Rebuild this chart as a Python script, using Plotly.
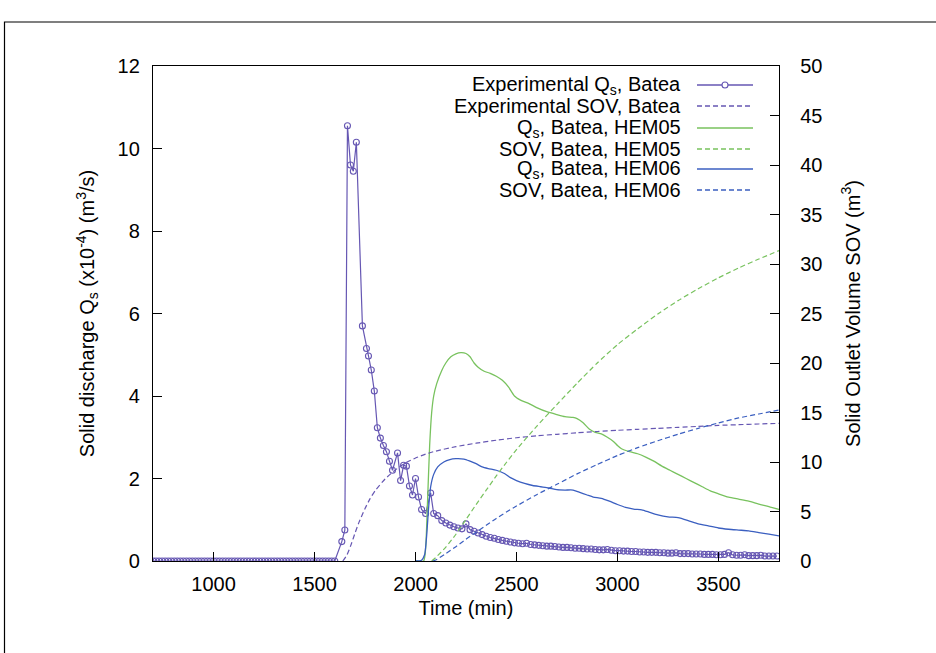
import plotly.graph_objects as go

# ---------------- data ----------------
exp_t = [700, 715, 730, 745, 760, 775, 790, 805, 820, 835, 850, 865, 880, 895, 910, 925, 940, 955, 970, 985,
         1000, 1015, 1030, 1045, 1060, 1075, 1090, 1105, 1120, 1135, 1150, 1165, 1180, 1195, 1210, 1225, 1240,
         1255, 1270, 1285, 1300, 1315, 1330, 1345, 1360, 1375, 1390, 1405, 1420, 1435, 1450, 1465, 1480, 1495,
         1510, 1525, 1540, 1555, 1570, 1585, 1600,
         1635, 1650, 1663, 1678, 1692, 1707, 1737, 1757, 1767, 1781, 1796, 1811, 1826, 1841, 1856, 1871, 1886,
         1911, 1926, 1941, 1955, 1970, 1985, 2000, 2015, 2030, 2050, 2075, 2090,
         2110, 2130, 2150, 2170, 2190, 2210, 2230, 2250, 2270, 2290, 2310, 2330, 2350, 2370, 2390, 2410, 2430,
         2450, 2470, 2490, 2510, 2530, 2550, 2570, 2590, 2610, 2630, 2650, 2670, 2690, 2710, 2730, 2750, 2770,
         2790, 2810, 2830, 2850, 2870, 2890, 2910, 2930, 2950, 2970, 2990, 3010, 3030, 3050, 3070, 3090, 3110,
         3130, 3150, 3170, 3190, 3210, 3230, 3250, 3270, 3290, 3310, 3330, 3350, 3370, 3390, 3410, 3430, 3450,
         3470, 3490, 3510, 3530, 3550, 3570, 3590, 3610, 3630, 3650, 3670, 3690, 3710, 3730, 3750, 3770, 3790]
exp_qs = [0, 0, 0, 0, 0, 0, 0, 0, 0, 0, 0, 0, 0, 0, 0, 0, 0, 0, 0, 0,
          0, 0, 0, 0, 0, 0, 0, 0, 0, 0, 0, 0, 0, 0, 0, 0, 0,
          0, 0, 0, 0, 0, 0, 0, 0, 0, 0, 0, 0, 0, 0, 0, 0, 0,
          0, 0, 0, 0, 0, 0, 0,
          0.47, 0.75, 10.55, 9.6, 9.45, 10.15, 5.7, 5.15, 4.97, 4.63, 4.12, 3.23, 2.98, 2.8, 2.65, 2.42, 2.2,
          2.62, 1.95, 2.32, 2.3, 1.82, 1.6, 2.0, 1.55, 1.25, 1.15, 1.65, 1.15,
          1.1, 0.98, 0.92, 0.87, 0.83, 0.8, 0.78, 0.9, 0.76, 0.72, 0.68, 0.64, 0.6, 0.57, 0.55, 0.52, 0.5,
          0.48, 0.46, 0.44, 0.43, 0.42, 0.43, 0.4, 0.39, 0.38, 0.37, 0.36, 0.36, 0.35, 0.34, 0.33, 0.33, 0.32,
          0.31, 0.31, 0.3, 0.29, 0.29, 0.28, 0.27, 0.27, 0.28, 0.26, 0.25, 0.25, 0.24, 0.24, 0.23, 0.23, 0.22,
          0.22, 0.21, 0.21, 0.21, 0.2, 0.2, 0.19, 0.19, 0.2, 0.18, 0.18, 0.18, 0.17, 0.17, 0.17, 0.16, 0.16,
          0.16, 0.15, 0.15, 0.16, 0.2, 0.15, 0.14, 0.14, 0.15, 0.13, 0.13, 0.13, 0.14, 0.12, 0.12, 0.12, 0.12]

exp_sov_t = [1640, 1660, 1680, 1700, 1720, 1750, 1775, 1800, 1850, 1900, 1950, 2000, 2050, 2100, 2200, 2300,
             2400, 2500, 2600, 2700, 2800, 2900, 3000, 3100, 3200, 3300, 3400, 3500, 3600, 3700, 3800]
exp_sov = [0, 0.6, 1.6, 2.8, 3.9, 5.3, 6.3, 7.1, 8.3, 9.2, 9.9, 10.4, 10.8, 11.1, 11.55, 11.9,
           12.2, 12.45, 12.65, 12.8, 12.95, 13.08, 13.2, 13.3, 13.4, 13.5, 13.6, 13.7, 13.77, 13.84, 13.9]

h05_t = [2000, 2040, 2050, 2060, 2070, 2080, 2090, 2105, 2130, 2150, 2175, 2200, 2225, 2250, 2270, 2290,
         2310, 2340, 2370, 2400, 2430, 2460, 2490, 2520, 2560, 2600, 2650, 2700, 2740, 2780, 2800, 2830,
         2860, 2890, 2920, 2950, 2980, 3000, 3020, 3060, 3100, 3140, 3180, 3220, 3260, 3300, 3340, 3380,
         3420, 3460, 3500, 3550, 3600, 3650, 3700, 3750, 3800]
h05_qs = [0, 0, 0.3, 1.5, 2.8, 3.6, 4.0, 4.3, 4.62, 4.8, 4.95, 5.02, 5.05, 5.03, 4.95, 4.8,
          4.7, 4.6, 4.55, 4.48, 4.38, 4.22, 4.0, 3.9, 3.82, 3.72, 3.62, 3.55, 3.5, 3.48, 3.45, 3.35,
          3.2, 3.12, 3.08, 3.0, 2.9, 2.8, 2.72, 2.65, 2.6, 2.52, 2.42, 2.3, 2.2, 2.1, 2.0, 1.9,
          1.8, 1.7, 1.63, 1.55, 1.5, 1.45, 1.38, 1.32, 1.25]

h05_sov_t = [2080, 2100, 2150, 2200, 2250, 2300, 2350, 2400, 2450, 2500, 2600, 2700, 2800, 2900, 3000,
             3100, 3200, 3300, 3400, 3500, 3600, 3700, 3800]
h05_sov = [0, 0.35, 1.4, 2.7, 4.2, 5.7, 7.15, 8.6, 9.95, 11.25, 13.6, 15.8, 17.95, 20.0, 21.85,
           23.45, 24.95, 26.3, 27.5, 28.6, 29.6, 30.5, 31.35]

h06_t = [2000, 2030, 2045, 2055, 2065, 2075, 2090, 2110, 2140, 2170, 2200, 2240, 2270, 2300, 2330, 2360,
         2400, 2440, 2470, 2500, 2540, 2580, 2620, 2660, 2700, 2740, 2780, 2810, 2850, 2880, 2920, 2960,
         3000, 3040, 3080, 3120, 3160, 3200, 3250, 3300, 3350, 3400, 3450, 3500, 3550, 3600, 3650, 3700,
         3750, 3800]
h06_qs = [0, 0.02, 0.15, 0.6, 1.3, 1.8, 2.1, 2.28, 2.4, 2.46, 2.48, 2.47, 2.42, 2.36, 2.28, 2.24,
          2.2, 2.12, 2.02, 1.95, 1.88, 1.83, 1.8, 1.77, 1.73, 1.72, 1.72, 1.67, 1.6, 1.55, 1.52, 1.45,
          1.37, 1.3, 1.26, 1.24, 1.18, 1.12, 1.07, 1.05, 0.98, 0.9, 0.85, 0.8, 0.77, 0.75, 0.73, 0.69,
          0.65, 0.61]

h06_sov_t = [2085, 2100, 2150, 2200, 2250, 2300, 2350, 2400, 2450, 2500, 2600, 2700, 2800, 2900, 3000,
             3100, 3200, 3300, 3400, 3500, 3600, 3700, 3800]
h06_sov = [0, 0.1, 0.75, 1.45, 2.2, 2.9, 3.6, 4.3, 4.95, 5.55, 6.7, 7.75, 8.8, 9.75, 10.65,
           11.45, 12.15, 12.8, 13.4, 13.95, 14.45, 14.85, 15.25]

x_ticks = [1000, 1500, 2000, 2500, 3000, 3500]

legend_labels = ["Experimental Q<sub>s</sub>, Batea", "Experimental SOV, Batea",
                 "Q<sub>s</sub>, Batea, HEM05", "SOV, Batea, HEM05",
                 "Q<sub>s</sub>, Batea, HEM06", "SOV, Batea, HEM06"]

# ---------------- styles ----------------
C_EXP = "#6657b3"
C_GREEN = "#78c25e"
C_BLUE = "#3b5fc0"
DASH = "5px,3px"
FONT = "Liberation Sans, Arial, sans-serif"
W, H = 936, 653
L, R, T, B = 153, 157, 66, 92
PW, PH = W - L - R, H - T - B


def px(x):
    return (x - L) / PW


def py(y):
    return (H - B - y) / PH


fig = go.Figure()
fig.add_trace(go.Scatter(x=exp_t, y=exp_qs, mode="lines+markers", yaxis="y",
                         line=dict(color=C_EXP, width=1.2),
                         marker=dict(symbol="circle-open", size=6, color=C_EXP, line=dict(width=1.1))))
fig.add_trace(go.Scatter(x=h05_t, y=h05_qs, mode="lines", yaxis="y",
                         line=dict(color=C_GREEN, width=1.3, shape="spline", smoothing=0.6)))
fig.add_trace(go.Scatter(x=h06_t, y=h06_qs, mode="lines", yaxis="y",
                         line=dict(color=C_BLUE, width=1.3, shape="spline", smoothing=0.6)))
fig.add_trace(go.Scatter(x=exp_sov_t, y=exp_sov, mode="lines", yaxis="y2",
                         line=dict(color=C_EXP, width=1.2, dash=DASH, shape="spline", smoothing=0.6)))
fig.add_trace(go.Scatter(x=h05_sov_t, y=h05_sov, mode="lines", yaxis="y2",
                         line=dict(color=C_GREEN, width=1.2, dash=DASH, shape="spline", smoothing=0.6)))
fig.add_trace(go.Scatter(x=h06_sov_t, y=h06_sov, mode="lines", yaxis="y2",
                         line=dict(color=C_BLUE, width=1.2, dash=DASH, shape="spline", smoothing=0.6)))

# manual gnuplot-style legend (text left, sample right)
rows_y = [85, 106, 128, 149, 169, 190]
styles = [(C_EXP, "solid"), (C_EXP, DASH), (C_GREEN, "solid"), (C_GREEN, DASH),
          (C_BLUE, "solid"), (C_BLUE, DASH)]
annotations = []
shapes = []
for lab, yy, (col, dsh) in zip(legend_labels, rows_y, styles):
    annotations.append(dict(x=px(683), y=py(yy), xref="paper", yref="paper", text=lab,
                            showarrow=False, xanchor="right", yanchor="middle",
                            font=dict(family=FONT, size=20, color="black")))
    shapes.append(dict(type="line", xref="paper", yref="paper", x0=px(697), x1=px(753),
                       y0=py(yy), y1=py(yy), line=dict(color=col, width=1.3, dash=dsh)))
shapes.append(dict(type="circle", xref="paper", yref="paper", x0=px(722), x1=px(728),
                   y0=py(rows_y[0] + 3), y1=py(rows_y[0] - 3),
                   line=dict(color=C_EXP, width=1.1), fillcolor="white"))
# outer frame
shapes.append(dict(type="rect", xref="paper", yref="paper", x0=px(4.5), x1=px(960),
                   y0=py(680), y1=py(22), line=dict(color="black", width=1.2)))

axis_common = dict(showline=True, linecolor="black", linewidth=1.3, ticks="inside", ticklen=9,
                   tickcolor="black", tickwidth=1.2, showgrid=False, zeroline=False,
                   tickfont=dict(family=FONT, size=20, color="black"))

fig.update_layout(
    width=W, height=H, margin=dict(l=L, r=R, t=T, b=B),
    paper_bgcolor="white", plot_bgcolor="white", showlegend=False,
    font=dict(family=FONT, size=20, color="black"),
    xaxis=dict(range=[700, 3800], tickvals=x_ticks, mirror=True, ticklabelstandoff=5,
               title=dict(text="Time (min)", font=dict(family=FONT, size=20), standoff=6),
               **axis_common),
    yaxis=dict(range=[0, 12], dtick=2, mirror=True, ticklabelstandoff=8,
               title=dict(text="Solid discharge Q<sub>s</sub> (x10<sup>-4</sup>) (m<sup>3</sup>/s)",
                          font=dict(family=FONT, size=20), standoff=17),
               **axis_common),
    yaxis2=dict(range=[0, 50], dtick=5, overlaying="y", side="right", ticklabelstandoff=16,
                title=dict(text="Solid Outlet Volume SOV (m<sup>3</sup>)",
                           font=dict(family=FONT, size=20), standoff=24),
                **axis_common),
    annotations=annotations, shapes=shapes,
)

fig.write_html("out.html")
